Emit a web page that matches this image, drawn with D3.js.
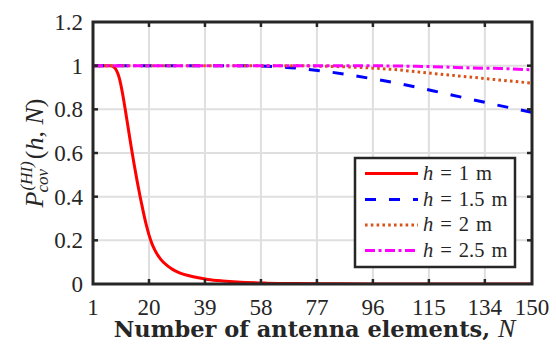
<!DOCTYPE html>
<html>
<head>
<meta charset="utf-8">
<script src="https://cdn.jsdelivr.net/npm/d3@7"></script>
<style>
  html, body { margin: 0; padding: 0; background: #fff; }
  svg { display: block; }
</style>
</head>
<body>
<svg id="chart" width="556" height="344"></svg>
<script>
(function () {
  'use strict';

  // values
  const xTicks = [1, 20, 39, 58, 77, 96, 115, 134, 150];
  const yTicks = [0, 0.2, 0.4, 0.6, 0.8, 1, 1.2];
  const yTickLabels = ['0', '0.2', '0.4', '0.6', '0.8', '1', '1.2'];

  const redN = [1, 5, 7, 8, 9, 10, 11, 12, 13, 14, 15, 16, 17, 18, 19, 20, 21, 22, 24, 26, 28, 30, 35, 40, 45, 50, 60, 70, 85, 100, 150];
  const redP = [1, 1, 1, 0.995, 0.977, 0.94, 0.875, 0.795, 0.71, 0.625, 0.545, 0.47, 0.40, 0.335, 0.275, 0.225, 0.185, 0.155, 0.113, 0.086, 0.067, 0.053, 0.033, 0.021, 0.014, 0.009, 0.004, 0.002, 0.001, 0, 0];

  const blueN = [1, 40, 55, 65, 72, 78, 86, 95, 103, 111, 119, 127, 136, 144, 150];
  const blueP = [1, 1, 0.999, 0.994, 0.986, 0.977, 0.962, 0.942, 0.923, 0.901, 0.877, 0.853, 0.826, 0.803, 0.786];

  const orangeN = [1, 70, 80, 90, 97, 105, 113, 121, 129, 137, 150];
  const orangeP = [1, 1, 0.997, 0.993, 0.988, 0.98, 0.969, 0.958, 0.948, 0.937, 0.92];

  const magentaN = [1, 90, 110, 120, 128, 139, 150];
  const magentaP = [1, 1, 0.997, 0.994, 0.99, 0.987, 0.981];

  const legendLabels = ['1', '1.5', '2', '2.5'];

  const series = [
    { n: redN, p: redP, color: '#ff0000', dash: null, h: legendLabels[0] },
    { n: blueN, p: blueP, color: '#0000ff', dash: '11,13', h: legendLabels[1] },
    { n: orangeN, p: orangeP, color: '#d95319', dash: '2.6,3.2', h: legendLabels[2] },
    { n: magentaN, p: magentaP, color: '#ff00ff', dash: '10,3.5,3,3.5', h: legendLabels[3] }
  ];

  const svg = d3.select('#chart');
  const L = 93, R = 532, T = 22, B = 284;
  const axisCol = '#262626';
  const serif = '"Liberation Serif", "Times New Roman", serif';

  const x = d3.scaleLinear().domain([1, 150]).range([L, R]);
  const y = d3.scaleLinear().domain([0, 1.2]).range([B, T]);

  // grid
  const gGrid = svg.append('g');
  gGrid.selectAll('line.gx').data(xTicks).join('line')
    .attr('x1', d => x(d)).attr('x2', d => x(d)).attr('y1', T).attr('y2', B)
    .attr('stroke', '#dfdfdf').attr('stroke-width', 2);
  gGrid.selectAll('line.gy').data(yTicks).join('line')
    .attr('x1', L).attr('x2', R).attr('y1', d => y(d)).attr('y2', d => y(d))
    .attr('stroke', '#dfdfdf').attr('stroke-width', 2);

  // lines
  svg.append('clipPath').attr('id', 'clip')
    .append('rect').attr('x', L).attr('y', T).attr('width', R - L).attr('height', B - T);
  const gLines = svg.append('g').attr('clip-path', 'url(#clip)');
  const line = d3.line().x(d => x(d[0])).y(d => y(d[1])).curve(d3.curveMonotoneX);
  series.forEach(s => {
    gLines.append('path')
      .datum(s.n.map((v, i) => [v, s.p[i]]))
      .attr('d', line)
      .attr('fill', 'none')
      .attr('stroke', s.color)
      .attr('stroke-width', 3)
      .attr('stroke-dasharray', s.dash);
  });

  // axes box with inward ticks
  const gAx = svg.append('g');
  const tickLen = 5;
  gAx.selectAll('line.tb').data(xTicks.slice(1, -1)).join('line')
    .attr('x1', d => x(d)).attr('x2', d => x(d)).attr('y1', B).attr('y2', B - tickLen)
    .attr('stroke', axisCol).attr('stroke-width', 2.5);
  gAx.selectAll('line.tt').data(xTicks.slice(1, -1)).join('line')
    .attr('x1', d => x(d)).attr('x2', d => x(d)).attr('y1', T).attr('y2', T + tickLen)
    .attr('stroke', axisCol).attr('stroke-width', 2.5);
  gAx.selectAll('line.tl').data(yTicks.slice(1, -1)).join('line')
    .attr('x1', L).attr('x2', L + tickLen).attr('y1', d => y(d)).attr('y2', d => y(d))
    .attr('stroke', axisCol).attr('stroke-width', 2.5);
  gAx.selectAll('line.tr').data(yTicks.slice(1, -1)).join('line')
    .attr('x1', R).attr('x2', R - tickLen).attr('y1', d => y(d)).attr('y2', d => y(d))
    .attr('stroke', axisCol).attr('stroke-width', 2.5);
  gAx.append('rect').attr('x', L).attr('y', T).attr('width', R - L).attr('height', B - T)
    .attr('fill', 'none').attr('stroke', axisCol).attr('stroke-width', 3);

  // tick labels
  svg.append('g').selectAll('text').data(xTicks).join('text')
    .attr('font-family', serif).attr('font-size', 23).attr('fill', axisCol)
    .attr('x', d => x(d)).attr('y', 315)
    .attr('text-anchor', 'middle')
    .text(d => d);
  svg.append('g').selectAll('text').data(yTicks).join('text')
    .attr('font-family', serif).attr('font-size', 23).attr('fill', axisCol)
    .attr('x', 83).attr('y', d => y(d) + 8)
    .attr('text-anchor', 'end')
    .text((d, i) => yTickLabels[i]);

  // x label
  const xl = svg.append('text')
    .attr('x', (L + R) / 2 + 2).attr('y', 337)
    .attr('text-anchor', 'middle')
    .attr('font-family', '"DejaVu Serif", serif')
    .attr('font-weight', 'bold')
    .attr('font-size', 22.5)
    .attr('fill', axisCol);
  xl.append('tspan').text('Number of antenna elements, ');
  xl.append('tspan').attr('font-style', 'italic').attr('font-weight', 'normal')
    .attr('font-family', serif).attr('font-size', 26).text('N');

  // y label: P_cov^(HI)(h, N), rotated
  const gy = svg.append('g').attr('transform', 'translate(43,' + ((T + B) / 2) + ') rotate(-90)');
  const pieces = [];
  function put(txt, size, dy, italic) {
    const t = gy.append('text').attr('font-family', serif).attr('font-size', size)
      .attr('font-style', italic ? 'italic' : 'normal').attr('fill', axisCol)
      .attr('y', dy).text(txt);
    pieces.push(t);
    return t;
  }
  const pP = put('P', 26, 0, true);
  const wP = pP.node().getComputedTextLength();
  const sup = put('(HI)', 17, -11, true).attr('x', wP + 1);
  const sub = put('cov', 17, 5, true).attr('x', wP - 1);
  const xs = wP + Math.max(sup.node().getComputedTextLength() + 1, sub.node().getComputedTextLength()) + 2;
  const rest = gy.append('text').attr('font-family', serif).attr('font-size', 26).attr('fill', axisCol)
    .attr('x', xs);
  rest.append('tspan').text('(');
  rest.append('tspan').attr('font-style', 'italic').text('h');
  rest.append('tspan').text(', ');
  rest.append('tspan').attr('font-style', 'italic').text('N');
  rest.append('tspan').text(')');
  pieces.push(rest);
  const total = xs + rest.node().getComputedTextLength();
  pieces.forEach(t => t.attr('x', (+t.attr('x') || 0) - total / 2));

  // legend
  const lx = 355, ly = 158, lw = 160, lh = 109;
  const gLeg = svg.append('g');
  gLeg.append('rect').attr('x', lx).attr('y', ly).attr('width', lw).attr('height', lh)
    .attr('fill', '#fff').attr('stroke', axisCol).attr('stroke-width', 2.5);
  const rowY = [173.5, 199.5, 225, 250.5];
  series.forEach((s, i) => {
    gLeg.append('line')
      .attr('x1', 365).attr('x2', 418).attr('y1', rowY[i]).attr('y2', rowY[i])
      .attr('stroke', s.color).attr('stroke-width', 3)
      .attr('stroke-dasharray', s.dash);
    const t = gLeg.append('text')
      .attr('font-family', serif).attr('font-size', 20.5).attr('fill', axisCol)
      .attr('x', 423).attr('y', rowY[i] + 6);
    t.append('tspan').attr('font-style', 'italic').text('h');
    t.append('tspan').attr('dx', 7).text('=');
    t.append('tspan').attr('dx', 7).text(s.h);
    t.append('tspan').attr('dx', 7).text('m');
  });
})();
</script>
</body>
</html>
